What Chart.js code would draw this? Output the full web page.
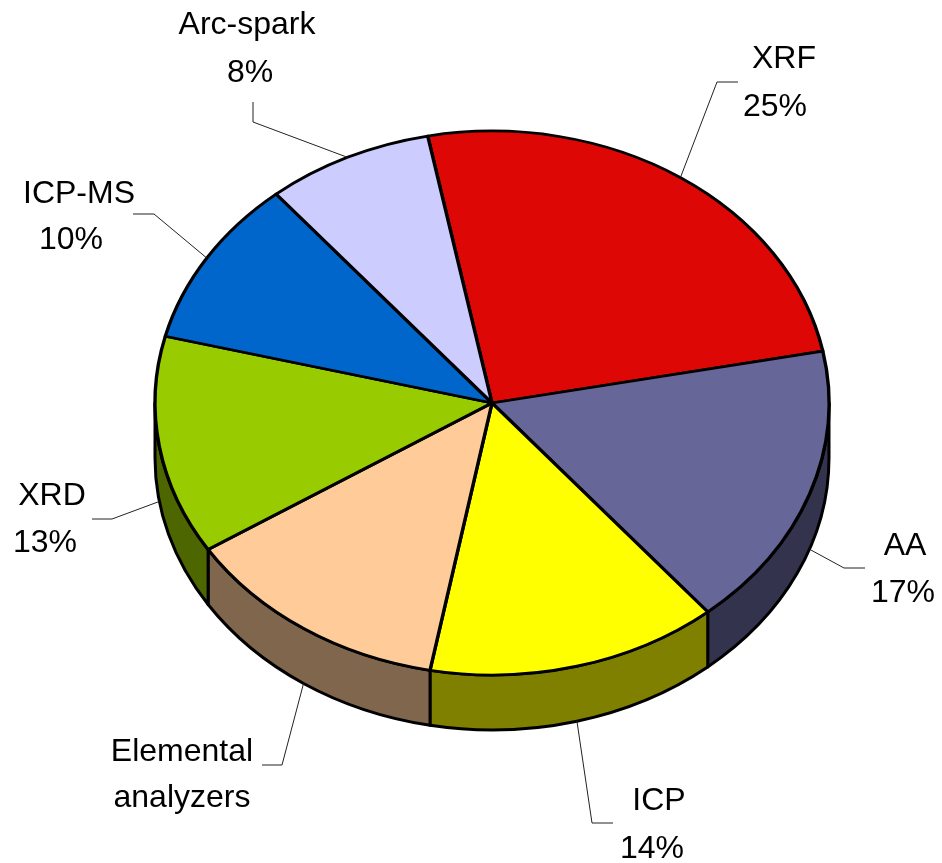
<!DOCTYPE html>
<html>
<head>
<meta charset="utf-8">
<script src="https://cdn.jsdelivr.net/npm/chart.js@4.4.0/dist/chart.umd.min.js"></script>
<style>
  html, body { margin: 0; padding: 0; background: #fff; }
  #wrap { width: 942px; height: 863px; }
</style>
</head>
<body>
<div id="wrap"><canvas id="pieChart" width="942" height="863"></canvas></div>
<script>
// data
const categories = ["XRF", "AA", "ICP", "Elemental analyzers", "XRD", "ICP-MS", "Arc-spark"];
const shares = [25, 17, 14, 13, 13, 10, 8];
const showPct = [true, true, true, false, true, true, true];

// warna atas & warna sisi (setengah gelap)
const topColors = ["#DD0806", "#666699", "#FFFF00", "#FFCC99", "#99CC00", "#0066CC", "#CCCCFF"];
const sideColors = ["#6E0403", "#33334D", "#808000", "#80664D", "#4D6600", "#003366", "#66667F"];

// posisi label (baris 1, baris 2) dan garis penunjuk (siku, ujung)
const labelSpots = [
  { lines: [[784, 68], [775, 116]], elbow: [717, 82], end: [738, 82] },
  { lines: [[905, 555], [903, 602]], elbow: [844, 568], end: [865, 568] },
  { lines: [[659, 810], [652, 858]], elbow: [592, 823], end: [613, 823] },
  { lines: [[182, 761], [182, 807]], elbow: [282, 765], end: [262, 765] },
  { lines: [[52, 505], [45, 552]], elbow: [112, 519], end: [92, 519] },
  { lines: [[79, 203], [71, 249]], elbow: [154, 214], end: [133, 214] },
  { lines: [[247, 34], [250, 82]], elbow: [253, 122], end: [253, 102] },
];

const tilt = 0.807;   // perbandingan tinggi/lebar elips
const depth = 55;     // tebal pie

function $(id) {
  return document.getElementById(id);
}

/* ======================================================
   bagian depan slice yang kelihatan (sudut 0..PI)
====================================================== */
function frontPart(start, end) {
  const TAU = Math.PI * 2;
  let s = ((start % TAU) + TAU) % TAU;
  let e = s + (end - start);
  const out = [];
  [[0, Math.PI], [TAU, TAU + Math.PI]].forEach(([lo, hi]) => {
    const a = Math.max(s, lo);
    const b = Math.min(e, hi);
    if (b > a) out.push([a, b]);
  });
  return out;
}

function labelText(i) {
  if (!showPct[i]) return categories[i].split(" ");
  return [categories[i], shares[i] + "%"];
}

/* ======================================================
   PLUGIN: efek 3D + label
====================================================== */
const pie3d = {
  id: "pie3d",
  beforeDatasetsDraw(chart) {
    const ctx = chart.ctx;
    const arcs = chart.getDatasetMeta(0).data;
    ctx.save();
    arcs.forEach((arc, i) => {
      const p = arc.getProps(["x", "y", "outerRadius", "startAngle", "endAngle"], true);
      const rx = p.outerRadius;
      const ry = p.outerRadius * tilt;
      frontPart(p.startAngle, p.endAngle).forEach(([a1, a2]) => {
        ctx.beginPath();
        ctx.ellipse(p.x, p.y, rx, ry, 0, a1, a2);
        ctx.lineTo(p.x + rx * Math.cos(a2), p.y + ry * Math.sin(a2) + depth);
        ctx.ellipse(p.x, p.y + depth, rx, ry, 0, a2, a1, true);
        ctx.closePath();
        ctx.fillStyle = sideColors[i];
        ctx.fill();
        ctx.lineWidth = 3;
        ctx.lineJoin = "round";
        ctx.strokeStyle = "#000";
        ctx.stroke();
      });
    });
    ctx.restore();
  },
  beforeDatasetDraw(chart) {
    const ctx = chart.ctx;
    const arc = chart.getDatasetMeta(0).data[0];
    ctx.save();
    ctx.translate(arc.x, arc.y);
    ctx.scale(1, tilt);
    ctx.translate(-arc.x, -arc.y);
  },
  afterDatasetDraw(chart) {
    chart.ctx.restore();
  },
  afterDraw(chart) {
    const ctx = chart.ctx;
    const arcs = chart.getDatasetMeta(0).data;
    ctx.save();
    arcs.forEach((arc, i) => {
      const p = arc.getProps(["x", "y", "outerRadius", "startAngle", "endAngle"], true);
      const mid = (p.startAngle + p.endAngle) / 2;
      const rx = p.outerRadius;
      const ry = p.outerRadius * tilt;
      let ax = p.x + rx * Math.cos(mid);
      let ay = p.y + ry * Math.sin(mid);
      if (Math.sin(mid) > 0) ay += depth;

      const spot = labelSpots[i];
      ctx.beginPath();
      ctx.moveTo(ax, ay);
      ctx.lineTo(spot.elbow[0], spot.elbow[1]);
      ctx.lineTo(spot.end[0], spot.end[1]);
      ctx.lineWidth = 1;
      ctx.strokeStyle = "#222";
      ctx.stroke();

      ctx.fillStyle = "#000";
      ctx.font = '32px "Liberation Sans", Arial, sans-serif';
      ctx.textAlign = "center";
      ctx.textBaseline = "alphabetic";
      labelText(i).forEach((t, k) => {
        ctx.fillText(t, spot.lines[k][0], spot.lines[k][1]);
      });
    });
    ctx.restore();
  },
};

/* ======================================================
   CHART
====================================================== */
const data = {
  labels: categories,
  datasets: [
    {
      data: shares,
      backgroundColor: topColors,
      borderColor: "#000",
      borderWidth: 3.4,
      borderJoinStyle: "round",
      clip: false,
    },
  ],
};

const config = {
  type: "pie",
  data: data,
  options: {
    responsive: false,
    animation: false,
    rotation: -11,
    radius: 337,
    layout: { padding: { left: 142, right: 100, top: 0, bottom: 57 } },
    plugins: {
      legend: { display: false },
      tooltip: { enabled: false },
    },
    events: [],
  },
  plugins: [pie3d],
};

new Chart($("pieChart"), config);
</script>
</body>
</html>
